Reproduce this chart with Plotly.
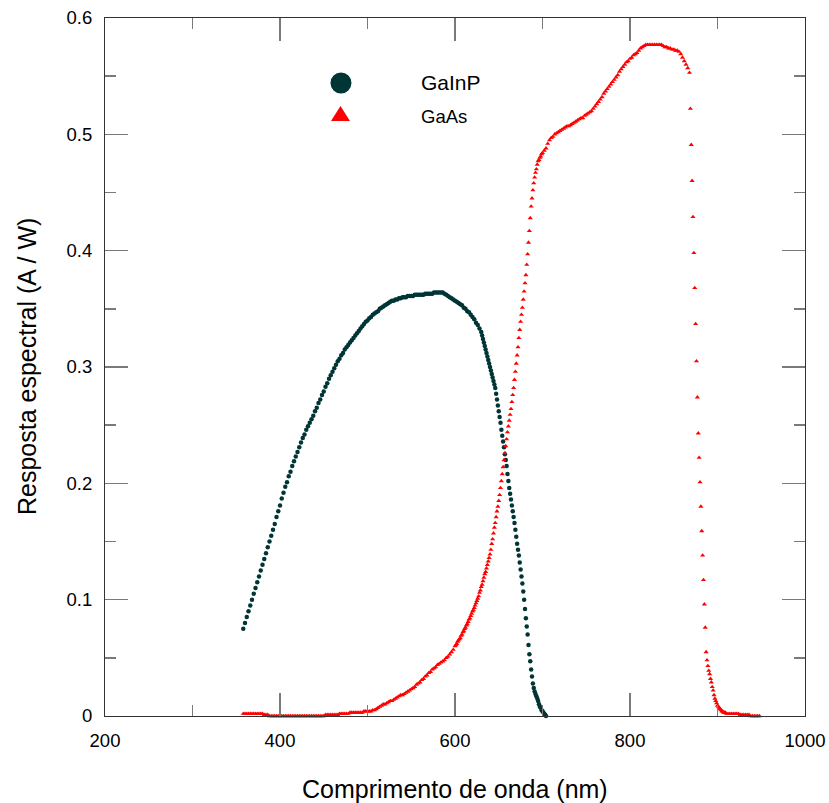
import plotly.graph_objects as go

# ---------------- data ----------------
gainp_nm = list(range(358, 631, 2)) + list(range(631, 705))
gainp_resp = [
    0.075, 0.080, 0.085, 0.090, 0.095, 0.100, 0.105, 0.110, 0.115, 0.120,
    0.125, 0.130, 0.135, 0.140, 0.145, 0.150, 0.155, 0.160, 0.165, 0.171,
    0.176, 0.181, 0.187, 0.192, 0.197, 0.201, 0.206, 0.210, 0.215, 0.219,
    0.223, 0.227, 0.231, 0.235, 0.239, 0.242, 0.246, 0.249, 0.252, 0.255,
    0.258, 0.262, 0.265, 0.269, 0.272, 0.276, 0.279, 0.283, 0.286, 0.290,
    0.293, 0.296, 0.299, 0.302, 0.305, 0.307, 0.310, 0.312, 0.315, 0.317,
    0.319, 0.321, 0.323, 0.325, 0.327, 0.329, 0.331, 0.333, 0.335, 0.337,
    0.339, 0.340, 0.342, 0.343, 0.345, 0.346, 0.347, 0.348, 0.350, 0.351,
    0.352, 0.353, 0.354, 0.355, 0.356, 0.357, 0.357, 0.358, 0.358, 0.359,
    0.359, 0.360, 0.360, 0.360, 0.361, 0.361, 0.361, 0.361, 0.362, 0.362,
    0.362, 0.362, 0.362, 0.362, 0.363, 0.363, 0.363, 0.363, 0.363, 0.364,
    0.364, 0.364, 0.364, 0.364, 0.364, 0.363, 0.362, 0.361, 0.360, 0.359,
    0.358, 0.357, 0.356, 0.355, 0.354, 0.353, 0.351, 0.350, 0.348, 0.347,
    0.345, 0.343, 0.341, 0.338, 0.336, 0.333, 0.330,
    # 631 .. 704 (1 nm)
    0.327, 0.324, 0.321, 0.318, 0.315, 0.312, 0.309, 0.306, 0.303, 0.300,
    0.297, 0.294, 0.291, 0.288, 0.285, 0.282, 0.277, 0.272, 0.267, 0.262,
    0.257, 0.252, 0.246, 0.241, 0.236, 0.231, 0.225, 0.220, 0.215, 0.208,
    0.202, 0.196, 0.191, 0.186, 0.181, 0.176, 0.171, 0.166, 0.160, 0.154,
    0.148, 0.143, 0.138, 0.132, 0.126, 0.120, 0.114, 0.107, 0.100, 0.092,
    0.084, 0.077, 0.070, 0.061, 0.053, 0.047, 0.040, 0.034, 0.028, 0.024,
    0.021, 0.019, 0.017, 0.015, 0.013, 0.010, 0.008, 0.007, 0.005, 0.004,
    0.003, 0.002, 0.001, 0.000,
]

gaas_nm = (list(range(358, 600, 2)) + list(range(600, 701)) + list(range(702, 869, 2))
           + list(range(869, 911)) + list(range(912, 949, 2)))
gaas_resp = [
    # 358 .. 598 (2 nm)
    0.002, 0.002, 0.002, 0.002, 0.002, 0.002, 0.002, 0.002, 0.002, 0.002,
    0.002, 0.002, 0.001, 0.001, 0.001, 0.000, 0.000, 0.000, 0.000, 0.000,
    0.000, 0.000, 0.000, 0.000, 0.000, 0.000, 0.000, 0.000, 0.000, 0.000,
    0.000, 0.000, 0.000, 0.000, 0.000, 0.000, 0.000, 0.000, 0.000, 0.000,
    0.000, 0.000, 0.000, 0.000, 0.000, 0.000, 0.000, 0.001, 0.001, 0.001,
    0.001, 0.001, 0.001, 0.001, 0.001, 0.002, 0.002, 0.002, 0.002, 0.002,
    0.002, 0.003, 0.003, 0.003, 0.003, 0.003, 0.003, 0.003, 0.003, 0.004,
    0.004, 0.004, 0.004, 0.004, 0.005, 0.005, 0.006, 0.007, 0.008, 0.009,
    0.010, 0.010, 0.011, 0.012, 0.013, 0.013, 0.014, 0.015, 0.016, 0.017,
    0.018, 0.018, 0.019, 0.020, 0.021, 0.022, 0.023, 0.024, 0.025, 0.027,
    0.028, 0.029, 0.031, 0.032, 0.034, 0.035, 0.037, 0.038, 0.040, 0.041,
    0.042, 0.044, 0.045, 0.046, 0.047, 0.048, 0.050, 0.051, 0.053, 0.055,
    0.057,
    # 600 .. 700 (1 nm)
    0.060, 0.061, 0.062, 0.064, 0.065, 0.066, 0.067, 0.069, 0.070, 0.072,
    0.073, 0.075, 0.076, 0.078, 0.079, 0.081, 0.083, 0.084, 0.086, 0.088,
    0.090, 0.091, 0.093, 0.095, 0.097, 0.099, 0.101, 0.103, 0.106, 0.108,
    0.111, 0.113, 0.116, 0.119, 0.122, 0.124, 0.127, 0.130, 0.133, 0.136,
    0.139, 0.143, 0.148, 0.152, 0.157, 0.162, 0.166, 0.171, 0.176, 0.180,
    0.185, 0.190, 0.196, 0.202, 0.208, 0.214, 0.220, 0.226, 0.232, 0.238,
    0.244, 0.249, 0.254, 0.259, 0.264, 0.270, 0.276, 0.282, 0.289, 0.296,
    0.303, 0.310, 0.317, 0.325, 0.332, 0.339, 0.345, 0.351, 0.358, 0.365,
    0.372, 0.379, 0.388, 0.397, 0.407, 0.417, 0.428, 0.438, 0.445, 0.452,
    0.458, 0.463, 0.467, 0.470, 0.474, 0.477, 0.478, 0.480, 0.481, 0.483,
    0.484,
    # 702 .. 868 (2 nm)
    0.486, 0.488, 0.492, 0.495, 0.497, 0.498, 0.500, 0.501, 0.502, 0.503,
    0.504, 0.505, 0.506, 0.507, 0.507, 0.508, 0.509, 0.510, 0.511, 0.512,
    0.513, 0.514, 0.514, 0.516, 0.517, 0.518, 0.519, 0.520, 0.522, 0.524,
    0.526, 0.528, 0.530, 0.532, 0.535, 0.537, 0.539, 0.541, 0.543, 0.545,
    0.547, 0.549, 0.551, 0.554, 0.556, 0.558, 0.560, 0.562, 0.563, 0.565,
    0.566, 0.568, 0.569, 0.570, 0.572, 0.574, 0.575, 0.576, 0.577, 0.577,
    0.577, 0.577, 0.577, 0.577, 0.577, 0.577, 0.577, 0.577, 0.576, 0.575,
    0.575, 0.574, 0.574, 0.573, 0.573, 0.572, 0.572, 0.571, 0.569, 0.566,
    0.563, 0.560, 0.557, 0.553,
    # 869 .. 910 (1 nm)
    0.522, 0.491, 0.460, 0.429, 0.398, 0.368, 0.337, 0.305, 0.274, 0.243,
    0.222, 0.201, 0.180, 0.159, 0.138, 0.117, 0.096, 0.076, 0.055, 0.048,
    0.043, 0.039, 0.036, 0.032, 0.029, 0.025, 0.022, 0.018, 0.015, 0.013,
    0.011, 0.009, 0.008, 0.007, 0.006, 0.005, 0.004, 0.004, 0.003, 0.003,
    0.003, 0.002,
    # 912 .. 948 (2 nm)
    0.002, 0.002, 0.002, 0.002, 0.002, 0.002, 0.002, 0.001, 0.001, 0.001,
    0.001, 0.001, 0.001, 0.000, 0.000, 0.000, 0.000, 0.000, 0.000,
]

series_names = ["GaInP", "GaAs"]
x_tick_vals = [200, 400, 600, 800, 1000]
x_tick_text = ["200", "400", "600", "800", "1000"]
x_minor_vals = [300, 500, 700, 900]
y_tick_vals = [0, 0.1, 0.2, 0.3, 0.4, 0.5, 0.6]
y_tick_text = ["0", "0.1", "0.2", "0.3", "0.4", "0.5", "0.6"]
y_minor_vals = [0.05, 0.15, 0.25, 0.35, 0.45, 0.55]
x_title = "Comprimento de onda (nm)"
y_title = "Resposta espectral (A / W)"

# ---------------- figure ----------------
DARK = "#003535"
RED = "#ff0000"
FONT = "Liberation Sans, Arial, Helvetica, sans-serif"

fig = go.Figure()
fig.add_trace(go.Scatter(
    x=gainp_nm, y=gainp_resp, mode="markers", name=series_names[0],
    marker=dict(symbol="circle", size=4.5, color=DARK, line=dict(width=0)),
    cliponaxis=False, showlegend=False, hoverinfo="skip"))
fig.add_trace(go.Scatter(
    x=gaas_nm, y=gaas_resp, mode="markers", name=series_names[1],
    marker=dict(symbol="triangle-up", size=4.5, color=RED, line=dict(width=0)),
    cliponaxis=False, showlegend=False, hoverinfo="skip"))

axis_common = dict(
    showline=True, linecolor="#333333", linewidth=1, mirror="ticks",
    ticks="inside", ticklen=23, tickwidth=1.5, tickcolor="#7a7a7a",
    showgrid=False, zeroline=False, automargin=False,
    tickfont=dict(family=FONT, size=18.5, color="#000000"),
    ticklabelstandoff=8,
)
fig.update_xaxes(range=[200, 1000], tickmode="array", tickvals=x_tick_vals,
                 ticktext=x_tick_text,
                 minor=dict(tickmode="array", tickvals=x_minor_vals, ticks="inside",
                            ticklen=11, tickwidth=1.5, tickcolor="#7a7a7a", showgrid=False),
                 **axis_common)
fig.update_yaxes(range=[0, 0.6], tickmode="array", tickvals=y_tick_vals,
                 ticktext=y_tick_text,
                 minor=dict(tickmode="array", tickvals=y_minor_vals, ticks="inside",
                            ticklen=11, tickwidth=1.5, tickcolor="#7a7a7a", showgrid=False),
                 **axis_common)

# legend drawn manually (mixed font sizes)
fig.add_shape(type="circle", xref="paper", yref="paper", xsizemode="pixel", ysizemode="pixel",
              xanchor=0.3371, yanchor=0.9069, x0=-10.5, x1=10.5, y0=-10.5, y1=10.5,
              fillcolor=DARK, line=dict(width=0))
fig.add_shape(type="path", xref="paper", yref="paper", xsizemode="pixel", ysizemode="pixel",
              xanchor=0.3364, yanchor=0.8632, path="M -9.5,-7.5 L 9.5,-7.5 L 0,7.5 Z",
              fillcolor=RED, line=dict(width=0))
fig.add_annotation(text=series_names[0], xref="paper", yref="paper", x=0.4486, y=0.9069,
                   xanchor="left", yanchor="middle", showarrow=False,
                   font=dict(family=FONT, size=21, color="#000000"))
fig.add_annotation(text=series_names[1], xref="paper", yref="paper", x=0.4486, y=0.8586,
                   xanchor="left", yanchor="middle", showarrow=False,
                   font=dict(family=FONT, size=18.5, color="#000000"))

# axis titles
fig.add_annotation(text=x_title, xref="paper", yref="paper", x=0.5, y=-0.1046,
                   xanchor="center", yanchor="middle", showarrow=False,
                   font=dict(family=FONT, size=25, color="#000000"))
fig.add_annotation(text=y_title, xref="paper", yref="paper", x=-0.1114, y=0.5,
                   xanchor="center", yanchor="middle", showarrow=False, textangle=-90,
                   font=dict(family=FONT, size=25, color="#000000"))

fig.update_layout(
    width=829, height=803,
    margin=dict(l=105, r=24, t=18, b=87),
    paper_bgcolor="white", plot_bgcolor="white",
    font=dict(family=FONT, color="#000000"),
    showlegend=False,
    hovermode=False,
)

fig.write_html(
    "out.html",
    config={"displayModeBar": False, "staticPlot": True},
    post_script="document.body.style.margin='0';document.body.style.overflow='hidden';",
)
